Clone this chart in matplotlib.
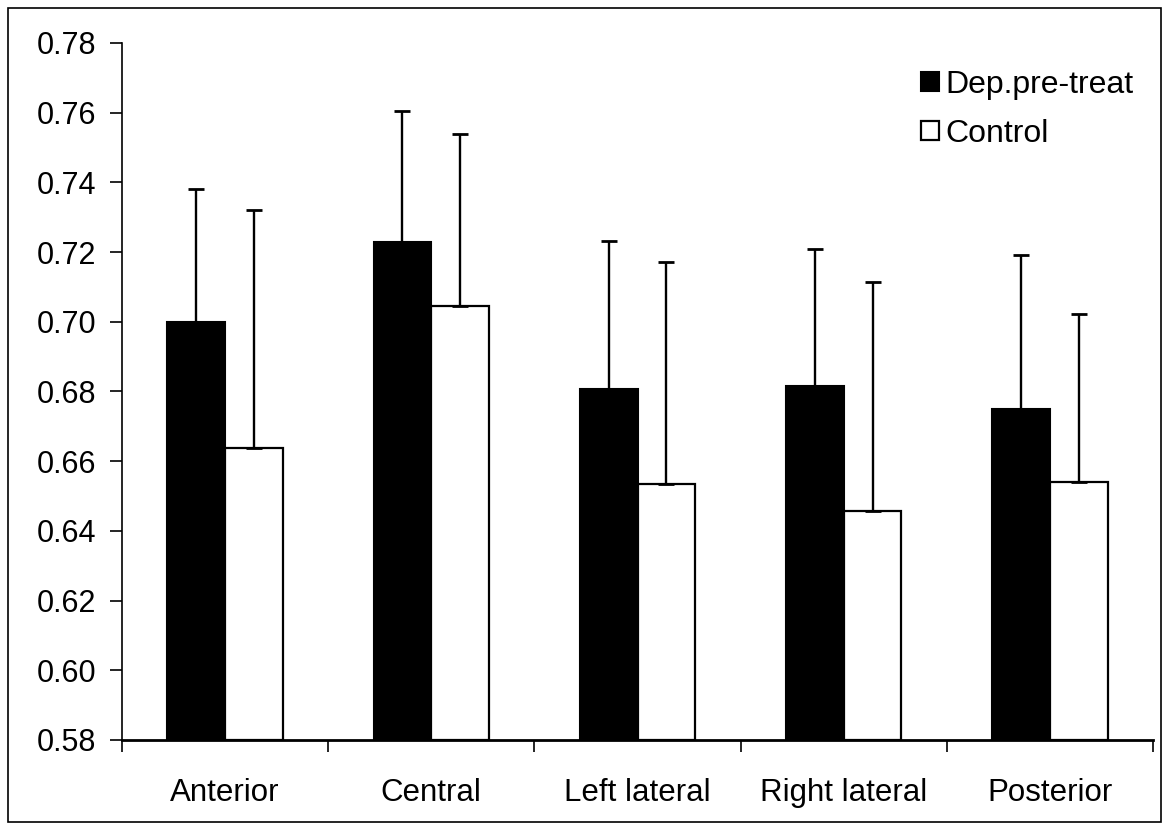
import numpy as np
import matplotlib
matplotlib.use("Agg")
import matplotlib.pyplot as plt
from matplotlib.patches import Rectangle

plt.rcParams['font.family'] = ['Liberation Sans', 'DejaVu Sans']

# data
regions = ["Anterior", "Central", "Left lateral", "Right lateral", "Posterior"]
dep_mean = [0.6998, 0.7229, 0.6807, 0.6817, 0.6749]
dep_upper = [0.7380, 0.7605, 0.7231, 0.7210, 0.7192]
ctrl_mean = [0.6638, 0.7044, 0.6535, 0.6457, 0.6540]
ctrl_upper = [0.7322, 0.7538, 0.7171, 0.7115, 0.7022]
y_ticks = [0.58, 0.60, 0.62, 0.64, 0.66, 0.68, 0.70, 0.72, 0.74, 0.76, 0.78]

dep_err = np.array(dep_upper) - np.array(dep_mean)
ctrl_err = np.array(ctrl_upper) - np.array(ctrl_mean)

fig = plt.figure(figsize=(11.69, 8.30), dpi=100)
ax = fig.add_axes([122 / 1169, 1 - 740 / 830, (1153 - 122) / 1169, (740 - 43) / 830])

x = np.arange(len(regions))
w = 0.28
base = y_ticks[0]
err_kw = dict(ecolor="black", elinewidth=1.7, capsize=5.5, capthick=2)

ax.bar(x - w / 2, np.array(dep_mean) - base, w, bottom=base, color="black",
       edgecolor="black", linewidth=1.5, label="Dep.pre-treat",
       yerr=[np.zeros(len(x)), dep_err], error_kw=err_kw, zorder=2)
ax.bar(x + w / 2, np.array(ctrl_mean) - base, w, bottom=base, color="white",
       edgecolor="black", linewidth=1.6, label="Control",
       yerr=[np.zeros(len(x)), ctrl_err], error_kw=err_kw, zorder=2)

ax.set_xlim(-0.5, len(regions) - 0.5)
ax.set_ylim(y_ticks[0], y_ticks[-1])
ax.set_yticks(y_ticks)
ax.set_yticklabels([f"{v:.2f}" for v in y_ticks])
ax.set_xticks(x)
ax.set_xticklabels(regions)
ax.set_xticks(np.arange(-0.5, len(regions)), minor=True)
ax.tick_params(axis="x", which="major", length=0, pad=27, labelsize=22.5)
ax.tick_params(axis="x", which="minor", length=8.5, width=1.2, direction="out")
ax.tick_params(axis="y", length=8.5, width=1.2, direction="out", pad=10, labelsize=22)

for s in ["top", "right"]:
    ax.spines[s].set_visible(False)
ax.spines["left"].set_linewidth(1.2)
ax.spines["bottom"].set_linewidth(2)

ax.legend(loc="upper right", bbox_to_anchor=(1146 / 1169, 1 - 57 / 830),
          bbox_transform=fig.transFigure, frameon=False, fontsize=23,
          handlelength=0.55, handleheight=0.55, handletextpad=0.2,
          labelspacing=0.6, borderaxespad=0)

# outer border around the picture
fig.patches.append(Rectangle((8 / 1169, 8 / 830), 1153 / 1169, 814 / 830,
                             transform=fig.transFigure, fill=False,
                             edgecolor="black", linewidth=1.2))

fig.savefig("out.png", dpi=100)
